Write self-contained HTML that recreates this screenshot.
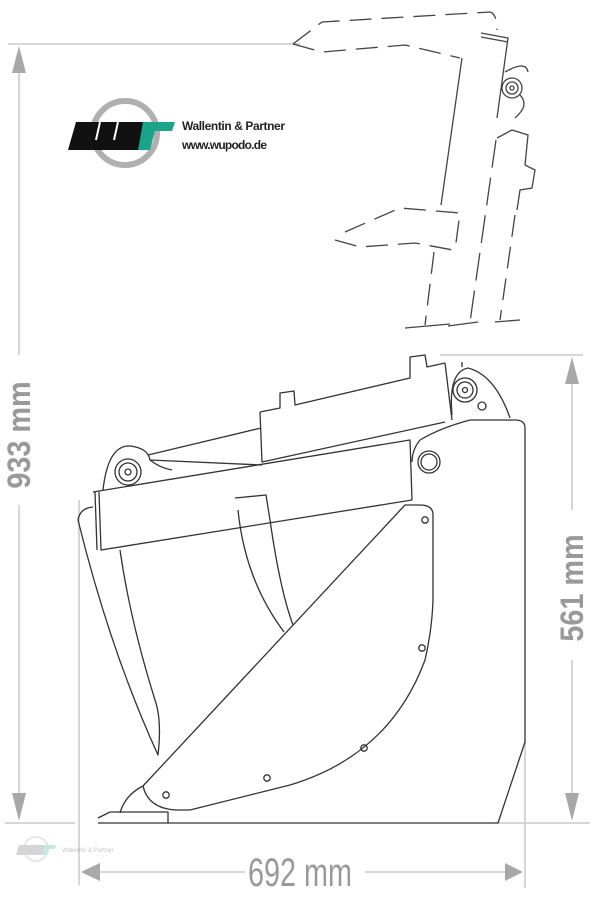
<!DOCTYPE html>
<html><head><meta charset="utf-8"><style>
html,body{margin:0;padding:0;background:#fff;}
svg{display:block;}
</style></head><body>
<svg width="600" height="900" viewBox="0 0 600 900" xmlns="http://www.w3.org/2000/svg">
<!-- dimension lines -->
<g stroke="#c8c8c8" stroke-width="1.5" fill="none">
<line x1="8" y1="44" x2="300" y2="44"/>
<line x1="19" y1="70" x2="19" y2="355"/>
<line x1="19" y1="505" x2="19" y2="795"/>
<line x1="5" y1="823" x2="75" y2="823"/>
<line x1="440" y1="355" x2="583" y2="355"/>
<line x1="572" y1="380" x2="572" y2="510"/>
<line x1="572" y1="660" x2="572" y2="795"/>
<line x1="495" y1="823" x2="590" y2="823"/>
<line x1="79" y1="500" x2="79" y2="885"/>
<line x1="525" y1="740" x2="525" y2="888"/>
<line x1="95" y1="872" x2="245" y2="872"/>
<line x1="365" y1="872" x2="510" y2="872"/>
</g>
<g fill="#a8a8a8">
<polygon points="19,46 12,73 26,73"/>
<polygon points="19,821 12,793 26,793"/>
<polygon points="572,357 565,384 579,384"/>
<polygon points="572,821 565,793 579,793"/>
<polygon points="81,872 100,863 100,881"/>
<polygon points="523,872 505,863 505,881"/>
</g>
<g fill="#999" font-family="'Liberation Sans',sans-serif" font-size="32" font-weight="bold">
<text transform="translate(30,435) rotate(-90) scale(0.9,1)" text-anchor="middle">933 mm</text>
<text transform="translate(583,588) rotate(-90) scale(0.9,1)" text-anchor="middle">561 mm</text>
</g>
<text transform="translate(300,886) scale(0.72,1)" text-anchor="middle" font-size="40" fill="#999" font-family="'Liberation Sans',sans-serif">692 mm</text>
<!-- logo -->
<circle cx="125" cy="133" r="32" fill="none" stroke="#b0b0b0" stroke-width="6"/>
<polygon points="76,122 148,122 141,150 68,150" fill="#111"/>
<g stroke="#fff" stroke-width="2"><line x1="100" y1="122" x2="96" y2="140"/><line x1="118" y1="122" x2="114" y2="140"/></g>
<polygon points="143,122 175,122 172,131 155,131 150,150 138,150" fill="#1aa58a"/>
<text x="182" y="130" font-family="'Liberation Sans',sans-serif" font-size="12" font-weight="bold" fill="#222" textLength="103">Wallentin &amp; Partner</text>
<text x="182" y="149" font-family="'Liberation Sans',sans-serif" font-size="12" font-weight="bold" fill="#222" textLength="85">www.wupodo.de</text>
<!-- watermark -->
<g opacity="0.35">
<circle cx="36" cy="849" r="12" fill="none" stroke="#bbb" stroke-width="2"/>
<polygon points="19,845 46,845 44,855 16,855" fill="#888"/>
<polygon points="44,845 56,845 55,849 49,849 47,855 42,855" fill="#5fb9a6"/>
<text x="62" y="852" font-family="'Liberation Sans',sans-serif" font-size="6" fill="#555">Wallentin &amp; Partner</text>
</g>
<!-- top dashed sketch -->
<g stroke="#444" stroke-width="1.3" fill="none">
<path d="M293,44 L322,22 L490,12 Q497,14 497,30" stroke-dasharray="22,10"/>
<path d="M293,44 L322,52 L405,45 L460,58" stroke-dasharray="22,10"/>
<line x1="462" y1="58" x2="441" y2="205"/>
<path d="M481,33 L508,38 L497,118"/>
<line x1="481" y1="37" x2="508" y2="42"/>
<circle cx="512" cy="88" r="10"/><circle cx="512" cy="88" r="6"/><circle cx="512" cy="88" r="2"/>
<path d="M505,72 Q526,60 528,72"/>
<path d="M520,95 Q530,105 515,118"/>
<path d="M497,138 L512,130 L528,135 L525,165 L535,170 L532,188 L520,190 L517,210"/>
<path d="M345,232 L400,208 L460,213 L455,250" stroke-dasharray="22,10"/>
<path d="M335,240 L360,247 L415,243 L453,250" stroke-dasharray="22,10"/>
<line x1="434" y1="252" x2="425" y2="325" stroke-dasharray="22,10"/>
<line x1="496" y1="140" x2="470" y2="322" stroke-dasharray="28,10"/>
<line x1="515" y1="215" x2="500" y2="320" stroke-dasharray="22,10"/>
<path d="M405,328 L450,324 M448,326 L478,322 M495,322 L520,320"/>
</g>
<!-- bucket -->
<g stroke="#333" stroke-width="1.3" fill="none" stroke-linejoin="round">
<path d="M98,823 L498,823 L525,742 L525,428 Q525,420 515,420 L470,420"/>
<path d="M470,420 Q440,428 420,440 Q412,450 412,462"/>
<path d="M405,505 L143,786 Q148,808 175,810 L190,810 L290,785 Q390,755 425,660 Q432,630 433,600 L433,515 Q433,505 420,505 Z"/>
<path d="M143,786 Q125,795 120,813"/>
<path d="M98,818 L110,812 L168,812 L168,823"/>
<circle cx="425" cy="520" r="3.2"/><circle cx="422" cy="648" r="3.2"/><circle cx="364" cy="748" r="3.2"/><circle cx="267" cy="778" r="3.2"/><circle cx="166" cy="795" r="3.2"/>
<path d="M93,507 Q80,508 78,520 Q110,650 158,755 Q162,720 155,700 Q130,620 120,550"/>
<path d="M93,492 L410,440 L412,500 L101,550 L99,492"/>
<line x1="95" y1="492" x2="97" y2="550"/>
<path d="M235,498 L266,495 L270,520 Q280,590 293,625 M238,510 Q245,580 284,632"/>
<circle cx="429" cy="462" r="11"/><circle cx="429" cy="462" r="8"/>
<path d="M148,455 L261,428 M150,460 L262,465"/>
<path d="M260,412 L262,462 L445,422"/>
<path d="M260,412 L280,408 L280,393 L294,391 L295,405 L410,378 L410,357 L425,355 L427,367 L445,363"/>
<path d="M445,363 L452,420"/>
<path d="M103,490 Q108,445 130,446 Q148,448 150,460 Q160,468 172,470"/>
<circle cx="128" cy="472" r="13"/><circle cx="128" cy="472" r="9"/><circle cx="128" cy="472" r="3"/>
<path d="M452,415 Q448,372 468,368 Q495,375 510,418"/>
<circle cx="465" cy="390" r="12"/><circle cx="465" cy="390" r="8"/><circle cx="465" cy="390" r="2.5"/>
<circle cx="482" cy="406" r="4"/>
<line x1="462" y1="367" x2="462" y2="362"/>
</g>
</svg>
</body></html>
